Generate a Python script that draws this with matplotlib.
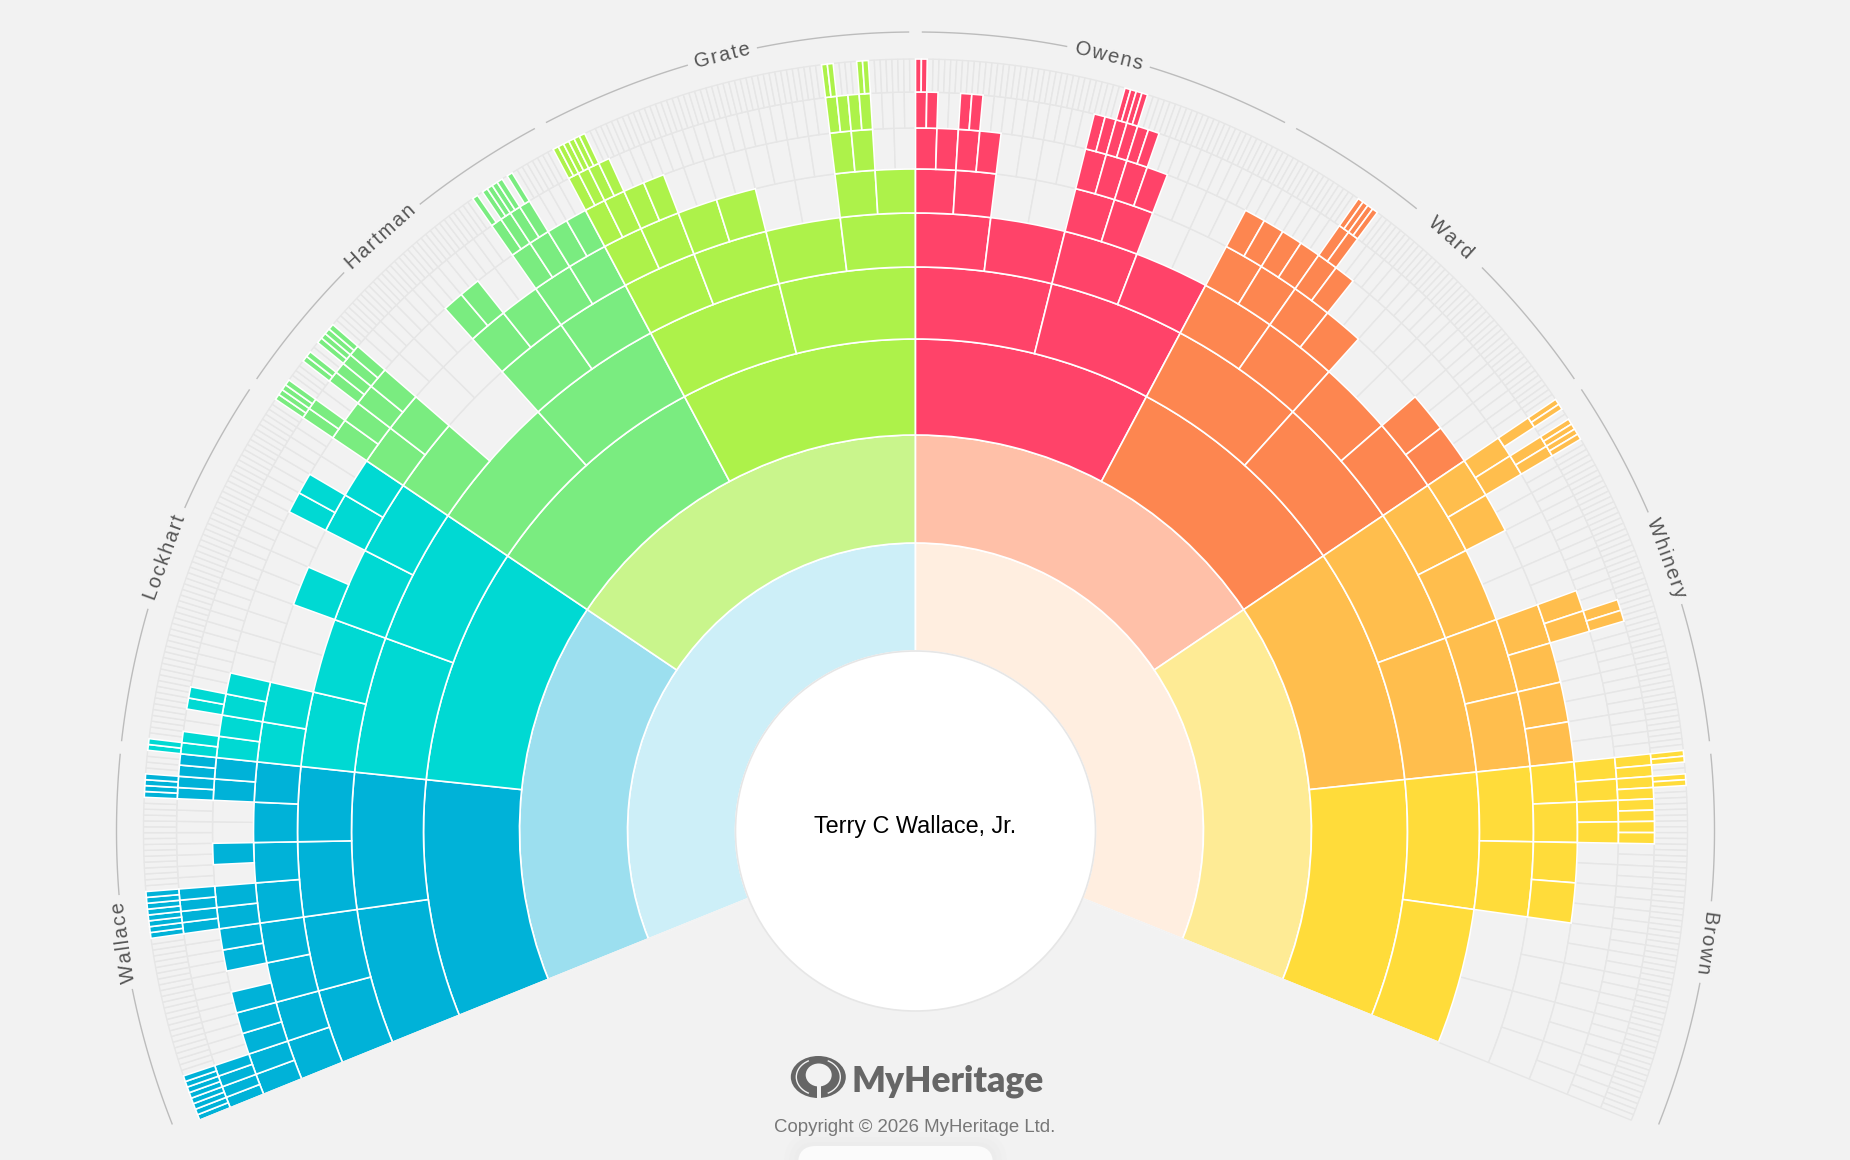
import numpy as np
import matplotlib
matplotlib.use('Agg')
import matplotlib.pyplot as plt
from matplotlib.patches import Circle, Ellipse, Arc, Rectangle, FancyBboxPatch

W, H = 1850, 1160
CX, CY = 915.5, 831
R_MAX = 830
SPAN = 224.0

BG = '#f2f2f2'
GRID = '#e6e6e6'

# ring radii in pixels, generation 1 to 9
radii = [180, 288, 396, 492, 564, 618, 662, 703, 739, 772]

gen1_colors = ['#cdeff8', '#ffeee0']
gen2_colors = ['#9cdfef', '#c9f58c', '#ffc0a8', '#feeb95']
branch_colors = ['#00b2d8', '#00d9d3', '#7aec80', '#adf24a',
                 '#ff4369', '#fd8650', '#ffbe4d', '#ffdc3a']

# known ancestors per generation, cell number counted clockwise from lower left
gen3_known = [0, 1, 2, 3, 4, 5, 6, 7]
gen4_known = list(range(16))
gen5_known = [0, 1, 2, 3, 4, 5, 6, 7, 8, 10, 11, 12, 13, 14, 15, 16, 17, 18, 19, 20,
              21, 22, 23, 24, 25, 26, 27, 28, 29]
gen6_known = [0, 1, 2, 3, 4, 5, 6, 7, 8, 9, 12, 14, 15, 16, 17, 20, 21, 22, 23, 24, 25,
              26, 27, 30, 31, 32, 33, 36, 37, 40, 41, 42, 43, 46, 47, 48, 49, 52, 53,
              54, 55, 56, 57, 58, 59]
gen7_known = [0, 1, 2, 3, 4, 6, 7, 8, 9, 11, 14, 15, 16, 17, 18, 19, 28, 29, 32, 33, 34,
              35, 40, 41, 44, 45, 46, 47, 48, 49, 50, 51, 60, 61, 64, 65, 66, 67, 72, 73,
              74, 75, 80, 81, 82, 83, 84, 85, 96, 97, 104, 105, 112, 113, 114, 115]
gen8_known = [0, 1, 2, 3, 16, 17, 18, 19, 28, 29, 30, 31, 32, 33, 36, 37, 64, 65, 68, 69,
              70, 71, 88, 89, 90, 91, 96, 97, 98, 99, 120, 121, 122, 123, 128, 129, 132,
              133, 144, 145, 146, 147, 148, 149, 168, 169, 192, 194, 195, 210, 211, 224,
              225, 226, 227, 228, 229, 230, 231]
gen9_known = [0, 1, 2, 3, 4, 5, 6, 7, 32, 33, 34, 35, 36, 37, 38, 39, 56, 57, 58, 59, 64,
              65, 128, 129, 130, 131, 136, 137, 140, 141, 142, 143, 176, 178, 179, 180,
              181, 183, 192, 193, 194, 195, 196, 197, 240, 241, 246, 247, 256, 257, 292,
              293, 294, 295, 336, 337, 338, 339, 384, 385, 388, 389, 390, 391, 448, 449,
              452, 453]

known = {3: gen3_known, 4: gen4_known, 5: gen5_known, 6: gen6_known,
         7: gen7_known, 8: gen8_known, 9: gen9_known}

surnames = ['Wallace', 'Lockhart', 'Hartman', 'Grate', 'Owens', 'Ward', 'Whinery', 'Brown']
# half of the gap the name leaves in the outer arc, degrees
name_gaps = [3.45, 3.9, 3.7, 2.6, 3.1, 3.2, 3.55, 3.0]


def draw_ring(ax, gen, cells, colors, edge, lw, z):
    w = SPAN / 2**gen
    th = np.radians(-SPAN / 2 + (np.array(cells) + 0.5) * w)
    ax.bar(th, radii[gen] - radii[gen - 1], width=np.radians(w), bottom=radii[gen - 1],
           color=colors, edgecolor=edge, linewidth=lw, zorder=z)


fig = plt.figure(figsize=(W / 100, H / 100), dpi=100, facecolor=BG)

# polar axes with r in pixels, centred on the fan
ax = fig.add_axes([(CX - R_MAX) / W, (H - CY - R_MAX) / H, 2 * R_MAX / W, 2 * R_MAX / H],
                  projection='polar')
ax.set_theta_zero_location('N')
ax.set_theta_direction(-1)
ax.set_ylim(0, R_MAX)
ax.set_axis_off()

# empty grid first
for gen in range(4, 10):
    draw_ring(ax, gen, list(range(2**gen)), BG, GRID, 1.0, 1)

draw_ring(ax, 1, [0, 1], gen1_colors, 'white', 1.2, 3)
draw_ring(ax, 2, [0, 1, 2, 3], gen2_colors, 'white', 1.2, 3)
for gen, cells in known.items():
    per_branch = 2**gen // 8
    cols = [branch_colors[c // per_branch] for c in cells]
    draw_ring(ax, gen, cells, cols, 'white', 1.2, 3)

# no white border along the two open ends of the fan
ax.plot(np.radians([-SPAN / 2, -SPAN / 2]), [radii[0], radii[9]], color=BG, lw=1.3, zorder=3.5)
ax.plot(np.radians([SPAN / 2, SPAN / 2]), [radii[0], radii[4]], color=BG, lw=1.3, zorder=3.5)

# outer arc with the surnames
r_arc = 799
for i, name in enumerate(surnames):
    mid = -SPAN / 2 + (i + 0.5) * SPAN / 8
    a0 = -SPAN / 2 + i * SPAN / 8 + 0.5
    a1 = a0 + SPAN / 8 - 1.0
    for lo, hi in [(a0, mid - name_gaps[i]), (mid + name_gaps[i], a1)]:
        th = np.radians(np.linspace(lo, hi, 60))
        ax.plot(th, np.full(60, r_arc), color='#bcbcbc', lw=1.0, zorder=4)
    ax.text(np.radians(mid), r_arc, '\u200a'.join(name), rotation=-mid, rotation_mode='anchor',
            ha='center', va='center', fontsize=14.5, color='#555555',
            family=['Liberation Sans', 'DejaVu Sans'], zorder=5)

# overlay in pixel coordinates for centre and footer
ov = fig.add_axes([0, 0, 1, 1])
ov.set_xlim(0, W)
ov.set_ylim(H, 0)
ov.set_axis_off()
ov.patch.set_alpha(0)

ov.add_patch(Circle((CX, CY), 180, fc='white', ec='#e6e6e6', lw=1.2, zorder=6))
ov.text(915, 827, 'Terry C Wallace, Jr.', ha='center', va='center', fontsize=16.8,
        color='black', family='Liberation Sans', zorder=7)

# logo
GREY = '#666666'
ov.add_patch(Ellipse((818.3, 1077), 55, 42, fc=GREY, ec='none', zorder=6))
ov.add_patch(Arc((818.3, 1077), 44, 36, theta1=120, theta2=240, ec=BG, lw=1.0, zorder=7))
ov.add_patch(Arc((818.3, 1077), 44, 36, theta1=-60, theta2=60, ec=BG, lw=1.0, zorder=7))
ov.add_patch(Ellipse((818.7, 1075), 26, 23, fc=BG, ec='none', zorder=7))
ov.add_patch(Rectangle((816.5, 1084), 4.5, 15, fc=BG, ec='none', zorder=7))
ov.text(851, 1081, 'MyHeritage', ha='left', va='center', fontsize=25.5, fontweight='heavy',
        color=GREY, family='Lato', zorder=7)
ov.text(915, 1127.5, 'Copyright \u00a9 2026 MyHeritage Ltd.', ha='center', va='center',
        fontsize=13.4, color='#777777', family='Liberation Sans', zorder=7)

# button poking in from the bottom edge
for grow, a in [(14, 0.25), (9, 0.35), (4, 0.5)]:
    ov.add_patch(FancyBboxPatch((798 - grow, 1146 - grow), 195 + 2 * grow, 60,
                                boxstyle='round,pad=0,rounding_size=%d' % (18 + grow),
                                fc='#ebebeb', ec='none', alpha=a, zorder=5))
ov.add_patch(FancyBboxPatch((798, 1146), 195, 60, boxstyle='round,pad=0,rounding_size=18',
                            fc='#fbfbfb', ec='none', zorder=6))

fig.savefig('out.png', dpi=100, facecolor=BG)
